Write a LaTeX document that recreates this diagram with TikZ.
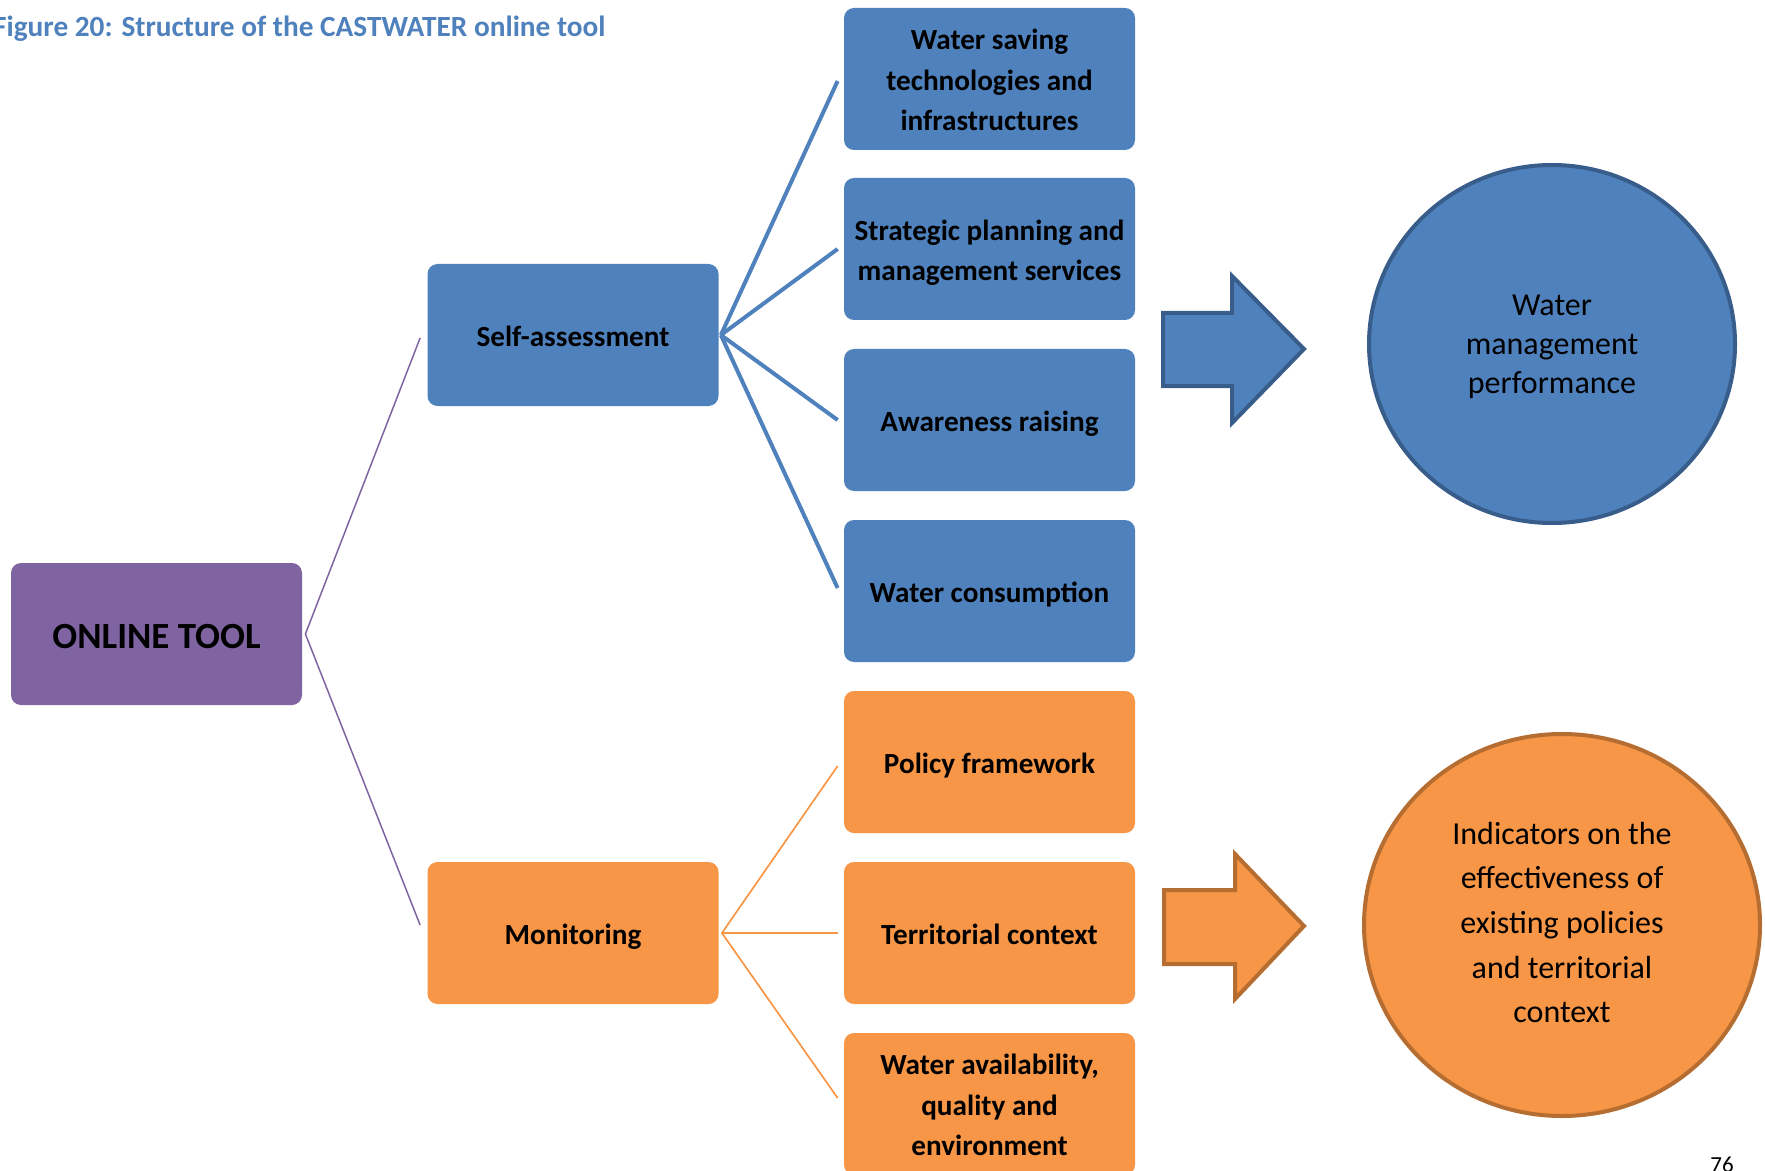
\documentclass[tikz,border=0pt]{standalone}
\usepackage{fontspec}
\setmainfont{Carlito}
\usetikzlibrary{shapes.geometric}
\definecolor{cblue}{RGB}{79,129,189}
\definecolor{cblued}{RGB}{56,93,138}
\definecolor{corange}{RGB}{247,150,70}
\definecolor{coranged}{RGB}{182,109,49}
\definecolor{cpurple}{RGB}{128,100,162}
\newcommand{\TopS}{\rule{0pt}{1.03em}}
\newcommand{\BotS}{\rule[-0.25em]{0pt}{0pt}}
\tikzset{
  boxbase/.style={rectangle, rounded corners=5pt, minimum width=145.5pt, minimum height=71pt,
    inner sep=0pt, align=center, font=\fontsize{14.6pt}{20.25pt}\selectfont\bfseries, text=black},
  bluebox/.style={boxbase, fill=cblue},
  orangebox/.style={boxbase, fill=corange},
  purplebox/.style={boxbase, fill=cpurple, font=\fontsize{18.45pt}{22pt}\selectfont\bfseries},
  blueline/.style={draw=cblue, line width=2pt},
  orangeline/.style={draw=corange, line width=0.85pt},
  purpleline/.style={draw=cpurple, line width=0.75pt},
  bigarrowblue/.style={fill=cblue, draw=cblued, line width=2pt, line join=miter},
  bigarroworange/.style={fill=corange, draw=coranged, line width=2pt, line join=miter},
}
\begin{document}
\begin{tikzpicture}[x=0.5pt, y=-0.5pt]
\useasboundingbox (0,0) rectangle (1765,1171);
\clip (0,0) rectangle (1765,1171);

% title
\node[anchor=base east, inner sep=0pt, text=cblue, font=\fontsize{14.65pt}{17pt}\selectfont\bfseries] (title) at (606,37) {Figure 20: Structure of the CASTWATER online tool};

% main boxes
\node[purplebox] (online) at (156.5,634) {\TopS ONLINE TOOL\BotS};
\node[bluebox] (self) at (573,335) {\TopS Self-assessment\BotS};
\node[orangebox] (mon) at (573,933) {\TopS Monitoring\BotS};

% right column
\node[bluebox] (b1) at (989.5,79) {\TopS Water saving\\technologies and\\infrastructures\BotS};
\node[bluebox] (b2) at (989.5,249) {\TopS Strategic planning and\\management services\BotS};
\node[bluebox] (b3) at (989.5,420) {\TopS Awareness raising\BotS};
\node[bluebox] (b4) at (989.5,591) {\TopS Water consumption\BotS};
\node[orangebox] (o1) at (989.5,762) {\TopS Policy framework\BotS};
\node[orangebox] (o2) at (989.5,933) {\TopS Territorial context\BotS};
\node[orangebox] (o3) at (989.5,1104) {\TopS Water availability,\\quality and\\environment\BotS};

% connectors
\draw[purpleline] ([xshift=1.5pt]online.east) -- ([xshift=-3.5pt,yshift=-1.5pt]self.west);
\draw[purpleline] ([xshift=1.5pt]online.east) -- ([xshift=-3.5pt,yshift=4pt]mon.west);

\draw[blueline] ([xshift=1pt]self.east) -- ([xshift=-3pt,yshift=-1pt]b1.west);
\draw[blueline] ([xshift=1pt]self.east) -- ([xshift=-3pt]b2.west);
\draw[blueline] ([xshift=1pt]self.east) -- ([xshift=-3pt]b3.west);
\draw[blueline] ([xshift=1pt]self.east) -- ([xshift=-3pt,yshift=1.5pt]b4.west);

\draw[orangeline] ([xshift=1.5pt]mon.east) -- ([xshift=-3pt,yshift=-2pt]o1.west);
\draw[orangeline] ([xshift=1.5pt]mon.east) -- ([xshift=-3pt]o2.west);
\draw[orangeline] ([xshift=1.5pt]mon.east) -- ([xshift=-3pt,yshift=3pt]o3.west);

% big arrows
\draw[bigarrowblue] (1163,313) -- (1232,313) -- (1232,276) -- (1304,349) -- (1232,423) -- (1232,386) -- (1163,386) -- cycle;
\draw[bigarroworange] (1164,890) -- (1235,890) -- (1235,854) -- (1304,926) -- (1235,999) -- (1235,964) -- (1164,964) -- cycle;

% circles
\node[ellipse, fill=cblue, draw=cblued, line width=2pt, inner sep=0pt,
  minimum width=183pt, minimum height=179pt, align=center,
  font=\fontsize{16pt}{19.5pt}\selectfont] (perf) at (1552,344)
  {\rule{0pt}{0.89em}Water\\management\\performance\rule[-0.25em]{0pt}{0pt}};
\node[ellipse, fill=corange, draw=coranged, line width=2pt, inner sep=0pt,
  minimum width=198pt, minimum height=191pt, align=center,
  font=\fontsize{16pt}{22.3pt}\selectfont] (ind) at (1562,925)
  {\rule{0pt}{0.83em}Indicators on the\\effectiveness of\\existing policies\\and territorial\\context\rule[-0.30em]{0pt}{0pt}};

% page number
\node[anchor=base, inner sep=0pt, font=\fontsize{11.5pt}{14pt}\selectfont] (page) at (1722,1172.5) {76};
\end{tikzpicture}
\end{document}
